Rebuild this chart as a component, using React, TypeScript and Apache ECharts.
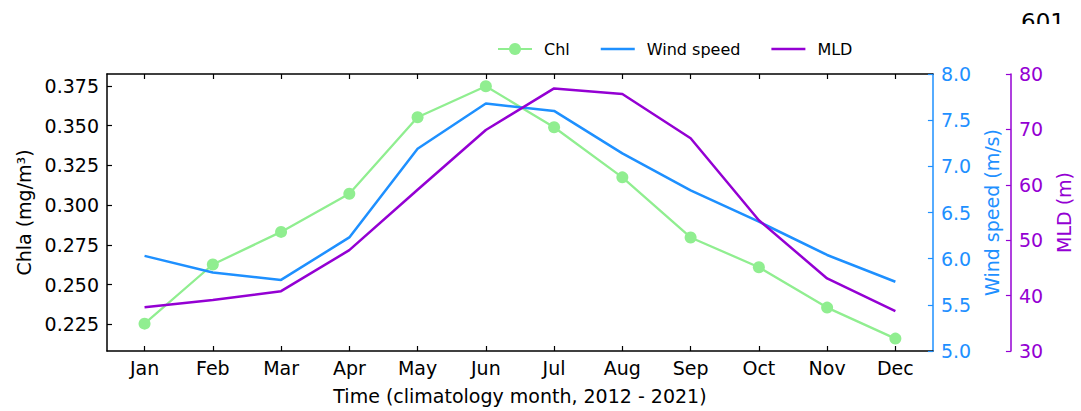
import React, { useEffect, useRef } from "react";
import * as echarts from "echarts";

const months = ["Jan", "Feb", "Mar", "Apr", "May", "Jun", "Jul", "Aug", "Sep", "Oct", "Nov", "Dec"];
const chl = [0.2254, 0.2626, 0.2831, 0.3071, 0.3552, 0.3747, 0.3489, 0.3174, 0.2796, 0.2609, 0.2355, 0.216];
const wind = [6.03, 5.85, 5.77, 6.23, 7.19, 7.68, 7.6, 7.14, 6.74, 6.4, 6.04, 5.75];
const mld = [37.9, 39.2, 40.8, 48.2, 59.1, 69.9, 77.4, 76.4, 68.4, 53.6, 43.1, 37.2];
const chlTicks = [0.225, 0.25, 0.275, 0.3, 0.325, 0.35, 0.375];
const monthTicks = [0, 1, 2, 3, 4, 5, 6, 7, 8, 9, 10, 11];

const FONT = "DejaVu Sans";
const GREEN = "#90EE90";
const BLUE = "#1E90FF";
const VIOLET = "#9400D3";
const LINE_ICON = "path://M0,0 H34 V2.4 H0 Z";

export default function App() {
  const ref = useRef<HTMLDivElement>(null);
  useEffect(() => {
    document.body.style.margin = "0";
    const chart = echarts.init(ref.current!, null, { renderer: "svg" });
    const black = "#000";
    const tickStyle = { show: true, inside: true, length: 5, lineStyle: { color: black, width: 1.2 } };
    chart.setOption({
      animation: false,
      textStyle: { fontFamily: FONT },
      grid: { left: 107, right: 139, top: 74, bottom: 60, containLabel: false },
      legend: {
        left: 497,
        top: 41,
        padding: 0,
        itemWidth: 34,
        itemHeight: 15,
        itemGap: 31,
        textStyle: { fontFamily: FONT, fontSize: 16, color: black, padding: [0, 0, 0, 7] },
        data: [
          { name: "Chl" },
          { name: "Wind speed", icon: LINE_ICON },
          { name: "MLD", icon: LINE_ICON },
        ],
      },
      graphic: [
        { type: "text", left: 1021, top: 10, style: { text: "601", fontFamily: FONT, fontSize: 23, fill: black } },
        { type: "rect", shape: { x: 1010, y: 24, width: 71, height: 24 }, style: { fill: "#fff" } },
      ],
      xAxis: [
        {
          type: "value",
          min: -0.55,
          max: 11.55,
          position: "bottom",
          name: "Time (climatology month, 2012 - 2021)",
          nameLocation: "middle",
          nameGap: 35,
          nameTextStyle: { fontFamily: FONT, fontSize: 19, color: black },
          axisLine: { show: true, onZero: false, lineStyle: { color: black, width: 1.5 } },
          axisTick: { ...tickStyle, customValues: monthTicks },
          axisLabel: {
            customValues: monthTicks,
            formatter: (v: number) => months[Math.round(v)],
            fontFamily: FONT,
            fontSize: 19,
            color: black,
            margin: 7,
          },
          splitLine: { show: false },
        },
        {
          type: "value",
          min: -0.55,
          max: 11.55,
          position: "top",
          axisLine: { show: true, onZero: false, lineStyle: { color: black, width: 1.5 } },
          axisTick: { ...tickStyle, customValues: monthTicks },
          axisLabel: { show: false },
          splitLine: { show: false },
        },
      ],
      yAxis: [
        {
          type: "value",
          min: 0.2082,
          max: 0.3824,
          position: "left",
          name: "Chla (mg/m³)",
          nameLocation: "middle",
          nameGap: 73,
          nameTextStyle: { fontFamily: FONT, fontSize: 19, color: black },
          axisLine: { show: true, onZero: false, lineStyle: { color: black, width: 1.5 } },
          axisTick: { ...tickStyle, customValues: chlTicks },
          axisLabel: {
            customValues: chlTicks,
            formatter: (v: number) => v.toFixed(3),
            fontFamily: FONT,
            fontSize: 19,
            color: black,
            margin: 8,
          },
          splitLine: { show: false },
        },
        {
          type: "value",
          min: 5,
          max: 8,
          interval: 0.5,
          position: "right",
          name: "Wind speed (m/s)",
          nameLocation: "middle",
          nameGap: 47,
          nameTextStyle: { fontFamily: FONT, fontSize: 19, color: BLUE },
          axisLine: { show: true, onZero: false, lineStyle: { color: BLUE, width: 1.5 } },
          axisTick: { show: true, inside: true, length: 5, lineStyle: { color: BLUE, width: 1.2 } },
          axisLabel: { formatter: (v: number) => v.toFixed(1), fontFamily: FONT, fontSize: 19, color: BLUE, margin: 8 },
          splitLine: { show: false },
        },
        {
          type: "value",
          min: 30,
          max: 80,
          interval: 10,
          position: "right",
          offset: 78,
          name: "MLD (m)",
          nameLocation: "middle",
          nameGap: 40,
          nameTextStyle: { fontFamily: FONT, fontSize: 19, color: VIOLET },
          axisLine: { show: true, onZero: false, lineStyle: { color: VIOLET, width: 1.5 } },
          axisTick: { show: true, inside: true, length: 5, lineStyle: { color: VIOLET, width: 1.2 } },
          axisLabel: { fontFamily: FONT, fontSize: 19, color: VIOLET, margin: 8 },
          splitLine: { show: false },
        },
      ],
      series: [
        {
          name: "Chl",
          type: "line",
          xAxisIndex: 0,
          yAxisIndex: 0,
          data: chl.map((v, i) => [i, v]),
          symbol: "circle",
          symbolSize: 12,
          itemStyle: { color: GREEN },
          lineStyle: { color: GREEN, width: 2.3 },
        },
        {
          name: "Wind speed",
          type: "line",
          xAxisIndex: 0,
          yAxisIndex: 1,
          data: wind.map((v, i) => [i, v]),
          symbol: "none",
          itemStyle: { color: BLUE },
          lineStyle: { color: BLUE, width: 2.5 },
        },
        {
          name: "MLD",
          type: "line",
          xAxisIndex: 0,
          yAxisIndex: 2,
          data: mld.map((v, i) => [i, v]),
          symbol: "none",
          itemStyle: { color: VIOLET },
          lineStyle: { color: VIOLET, width: 2.5 },
        },
      ],
    });
    return () => chart.dispose();
  }, []);
  return <div ref={ref} style={{ width: 1081, height: 411 }} />;
}
